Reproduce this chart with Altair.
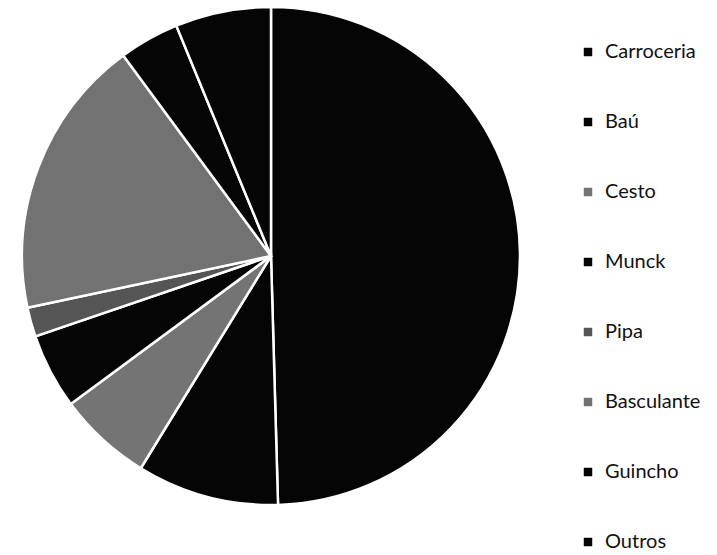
import altair as alt
import pandas as pd

categories = ["Carroceria", "Baú", "Cesto", "Munck", "Pipa", "Basculante", "Guincho", "Outros"]
values = [49.5, 9.2, 6.1, 4.9, 1.9, 18.2, 3.9, 6.2]
colors = ["#050505", "#050505", "#747474", "#050505", "#555555", "#727272", "#050505", "#050505"]

df = pd.DataFrame({"cat": categories, "val": values, "ord": list(range(len(categories)))})

chart = alt.Chart(df).mark_arc(radius=249, stroke="white", strokeWidth=2.5).encode(
    theta=alt.Theta("val:Q", stack=True),
    order=alt.Order("ord:Q"),
    x=alt.value(263),
    y=alt.value(248),
    color=alt.Color(
        "cat:N",
        scale=alt.Scale(domain=categories, range=colors),
        legend=alt.Legend(
            title=None,
            orient="none",
            legendX=570,
            legendY=34,
            padding=0,
            symbolType="square",
            symbolSize=72,
            symbolStrokeWidth=0,
            labelFont="Lato",
            labelFontSize=20,
            labelColor="#111111",
            labelOffset=7,
            rowPadding=50,
        ),
    ),
).properties(
    width=701, height=545, padding=0, autosize=alt.AutoSizeParams(type="none")
).configure_view(stroke=None)

chart.save("out.html", embed_options={"renderer": "svg", "actions": False})
